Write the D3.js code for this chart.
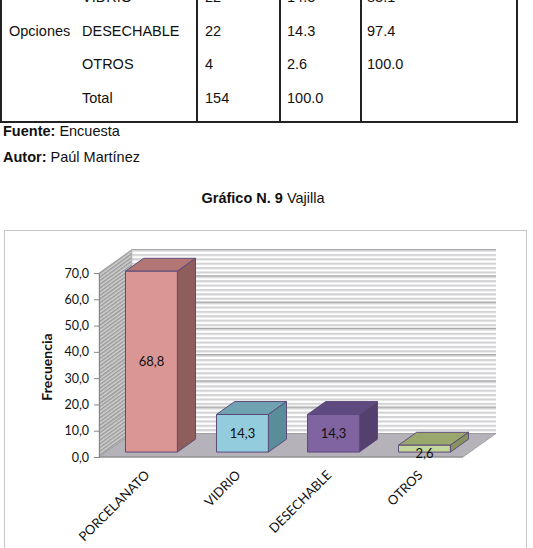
<!DOCTYPE html>
<html>
<head>
<meta charset="utf-8">
<script src="https://cdn.jsdelivr.net/npm/d3@7"></script>
<style>
  body { margin: 0; background: #fff; }
  svg { display: block; }
</style>
</head>
<body>
<div id="chart"></div>
<script>
// table rows (top part of page, first row is cut off)
const tableRows = [
  ["", "VIDRIO", "22", "14.3", "83.1"],
  ["Opciones", "DESECHABLE", "22", "14.3", "97.4"],
  ["", "OTROS", "4", "2.6", "100.0"],
  ["", "Total", "154", "100.0", ""]
];

// chart data
const categories = ["PORCELANATO", "VIDRIO", "DESECHABLE", "OTROS"];
const values = [68.8, 14.3, 14.3, 2.6];
const valueLabels = ["68,8", "14,3", "14,3", "2,6"];
const yTicks = [0, 10, 20, 30, 40, 50, 60, 70];

const frontColors = ["#d99694", "#93cddd", "#8064a2", "#c3d69b"];
const topColors = ["#b27674", "#70a3b1", "#5f4a80", "#9ba86d"];
const sideColors = ["#8f5d5c", "#5a8d9a", "#54406f", "#87945e"];

const width = 533, height = 548;
const depth = { dx: 33, dy: -23.5 }, z0 = 0.21, z1 = 0.76;

const svg = d3.select("#chart").append("svg")
  .attr("width", width)
  .attr("height", height);

// ---- table ----
const tableFont = "'Liberation Sans', Arial, sans-serif";
const colX = [9, 82, 205, 287, 367];
const rowY = d3.scaleLinear().domain([0, 1]).range([2, 35.5]);

tableRows.forEach((row, i) => {
  row.forEach((cell, j) => {
    svg.append("text")
      .attr("x", colX[j])
      .attr("y", rowY(i))
      .attr("font-family", tableFont)
      .attr("font-size", 14.5)
      .attr("fill", "#111")
      .text(cell);
  });
});

[1, 197, 280, 361, 517].forEach(x => {
  svg.append("line")
    .attr("x1", x).attr("x2", x)
    .attr("y1", 0).attr("y2", 123)
    .attr("stroke", "#222").attr("stroke-width", 2);
});
svg.append("line")
  .attr("x1", 0).attr("x2", 518)
  .attr("y1", 122).attr("y2", 122)
  .attr("stroke", "#222").attr("stroke-width", 2);

// footnotes
function mixedText(x, y, bold, normal, anchor) {
  const t = svg.append("text")
    .attr("x", x).attr("y", y)
    .attr("font-family", tableFont)
    .attr("font-size", 14.5)
    .attr("fill", "#111")
    .attr("text-anchor", anchor || "start");
  t.append("tspan").attr("font-weight", "bold").text(bold);
  t.append("tspan").text(normal);
}
mixedText(3, 136, "Fuente:", " Encuesta");
mixedText(3, 162, "Autor:", " Paúl Martínez");
mixedText(263, 203, "Gráfico N. 9", " Vajilla", "middle");

// ---- chart ----
svg.append("rect")
  .attr("x", 4.5).attr("y", 230.5)
  .attr("width", 522).attr("height", 340)
  .attr("fill", "#fff")
  .attr("stroke", "#c8c8c8");

const x = d3.scaleBand()
  .domain(categories)
  .range([99, 463])
  .paddingInner(0.43)
  .paddingOuter(0.215);

const y = d3.scaleLinear()
  .domain([0, 70])
  .range([457, 273]);

const P = (px, py, z) => [px + z * depth.dx, py + z * depth.dy];
const poly = pts => "M" + pts.map(p => p.join(",")).join("L") + "Z";

const defs = svg.append("defs");
const stripeH = (y(0) - y(10)) / 6;
const hp = defs.append("pattern")
  .attr("id", "hstripe")
  .attr("patternUnits", "userSpaceOnUse")
  .attr("width", 10).attr("height", stripeH)
  .attr("y", y(0) + depth.dy);
hp.append("rect").attr("width", 10).attr("height", stripeH).attr("fill", "#fff");
hp.append("rect").attr("width", 10).attr("height", stripeH / 2).attr("fill", "#d3d3d6");

const dp = defs.append("pattern")
  .attr("id", "dstripe")
  .attr("patternUnits", "userSpaceOnUse")
  .attr("width", 10).attr("height", 3)
  .attr("patternTransform", "rotate(-36)");
dp.append("rect").attr("width", 10).attr("height", 3).attr("fill", "#d2d2d2");
dp.append("rect").attr("width", 10).attr("height", 1.5).attr("fill", "#9a9a9a");

const [x0, x1] = x.range();
const [yBot, yTop] = y.range();

// back wall
svg.append("path")
  .attr("d", poly([P(x0, yTop, 1), P(x1, yTop, 1), P(x1, yBot, 1), P(x0, yBot, 1)]))
  .attr("fill", "url(#hstripe)");

// side wall
svg.append("path")
  .attr("d", poly([P(x0, yTop, 0), P(x0, yTop, 1), P(x0, yBot, 1), P(x0, yBot, 0)]))
  .attr("fill", "url(#dstripe)")
  .attr("stroke", "#b0b0b0").attr("stroke-width", 0.6);

// gridlines
svg.selectAll("line.grid")
  .data(yTicks)
  .join("line")
  .attr("class", "grid")
  .attr("x1", d => P(x0, y(d), 1)[0])
  .attr("y1", d => P(x0, y(d), 1)[1])
  .attr("x2", d => P(x1, y(d), 1)[0])
  .attr("y2", d => P(x1, y(d), 1)[1])
  .attr("stroke", "#a8a8a8").attr("stroke-width", 1.2);

svg.selectAll("line.sidegrid")
  .data(yTicks)
  .join("line")
  .attr("class", "sidegrid")
  .attr("x1", d => P(x0, y(d), 0)[0])
  .attr("y1", d => P(x0, y(d), 0)[1])
  .attr("x2", d => P(x0, y(d), 1)[0])
  .attr("y2", d => P(x0, y(d), 1)[1])
  .attr("stroke", "#9c9c9c").attr("stroke-width", 0.6);

// floor
svg.append("path")
  .attr("d", poly([P(x0, yBot, 0), P(x1, yBot, 0), P(x1, yBot, 1), P(x0, yBot, 1)]))
  .attr("fill", "#b5b3b9")
  .attr("stroke", "#9a9a9e").attr("stroke-width", 0.8);

// y axis
const yAxis = d3.axisLeft(y)
  .tickValues(yTicks)
  .tickSize(5)
  .tickPadding(5)
  .tickFormat(d => d.toFixed(1).replace(".", ","));

const gy = svg.append("g")
  .attr("transform", `translate(${x0},0)`)
  .call(yAxis);
gy.select(".domain").attr("stroke", "#868686");
gy.selectAll(".tick line").attr("stroke", "#868686");
gy.selectAll(".tick text")
  .attr("font-family", "Lato, 'Noto Sans', sans-serif")
  .attr("font-size", 12.5)
  .attr("fill", "#111");

svg.append("line")
  .attr("x1", x0).attr("x2", x1)
  .attr("y1", yBot).attr("y2", yBot)
  .attr("stroke", "#868686");

svg.append("text")
  .attr("transform", "translate(52,367) rotate(-90)")
  .attr("text-anchor", "middle")
  .attr("font-family", "Lato, 'Noto Sans', sans-serif")
  .attr("font-weight", "bold")
  .attr("font-size", 14)
  .attr("fill", "#111")
  .text("Frecuencia");

// bars
const bars = svg.selectAll("g.bar")
  .data(categories.map((c, i) => ({ c, v: values[i], label: valueLabels[i], i })))
  .join("g")
  .attr("class", "bar");

const stroke = "#5e4a7c";

bars.append("path")
  .attr("d", d => {
    const bx0 = x(d.c), bx1 = bx0 + x.bandwidth();
    return poly([P(bx0, y(d.v), z0), P(bx1, y(d.v), z0), P(bx1, y(d.v), z1), P(bx0, y(d.v), z1)]);
  })
  .attr("fill", d => topColors[d.i])
  .attr("stroke", stroke).attr("stroke-linejoin", "round");

bars.append("path")
  .attr("d", d => {
    const bx1 = x(d.c) + x.bandwidth();
    return poly([P(bx1, y(d.v), z0), P(bx1, y(0), z0), P(bx1, y(0), z1), P(bx1, y(d.v), z1)]);
  })
  .attr("fill", d => sideColors[d.i])
  .attr("stroke", stroke).attr("stroke-linejoin", "round");

bars.append("path")
  .attr("d", d => {
    const bx0 = x(d.c), bx1 = bx0 + x.bandwidth();
    return poly([P(bx0, y(d.v), z0), P(bx1, y(d.v), z0), P(bx1, y(0), z0), P(bx0, y(0), z0)]);
  })
  .attr("fill", d => frontColors[d.i])
  .attr("stroke", stroke).attr("stroke-linejoin", "round");

bars.append("text")
  .attr("x", d => P(x(d.c) + x.bandwidth() / 2, 0, z0)[0])
  .attr("y", d => P(0, (y(d.v) + y(0)) / 2, z0)[1])
  .attr("dy", d => d.v < 5 ? "0.75em" : "0.35em")
  .attr("text-anchor", "middle")
  .attr("font-family", "Lato, 'Noto Sans', sans-serif")
  .attr("font-size", 13)
  .attr("fill", "#111")
  .text(d => d.label);

// category labels
svg.selectAll("text.cat")
  .data(categories)
  .join("text")
  .attr("class", "cat")
  .attr("transform", d => `translate(${x(d) + x.bandwidth() / 2 - 1},${yBot + 12}) rotate(-45)`)
  .attr("text-anchor", "end")
  .attr("dy", "0.75em")
  .attr("font-family", "Lato, 'Noto Sans', sans-serif")
  .attr("font-size", 13)
  .attr("fill", "#111")
  .text(d => d);
</script>
</body>
</html>
